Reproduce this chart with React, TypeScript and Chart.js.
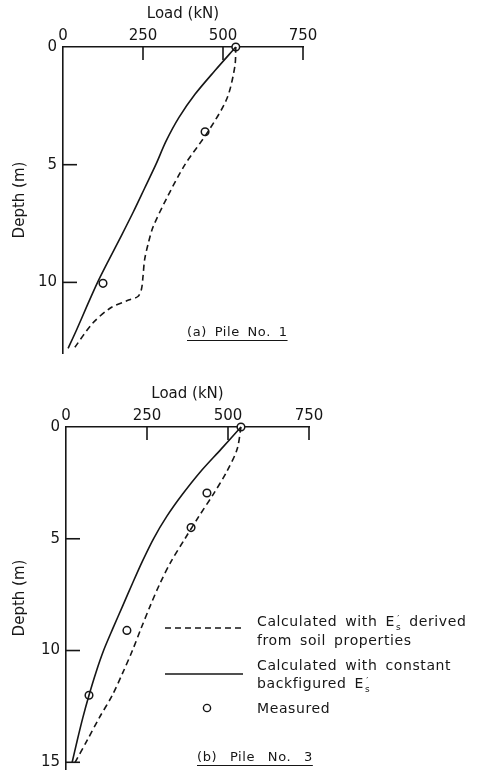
import React, { useEffect, useRef } from 'react';
import { Chart, registerables } from 'chart.js';

Chart.register(...registerables);

const INK = '#161616';
const FONT = "'DejaVu Sans', 'Liberation Sans', sans-serif";

// Axis tick labels
const loadTicks = [0, 250, 500, 750];
const depthTicksPile1 = [0, 5, 10];
const depthTicksPile3 = [0, 5, 10, 15];

// ---- Pile No. 1 ----
// Calculated with E's derived from soil properties (dashed)
const pile1SoilDepth = [0, 0.83, 2.2, 3.6, 5, 6.4, 7.66, 8.37, 9.04, 9.75, 10.3, 10.6, 10.75, 11.1, 11.76, 12.76];
const pile1SoilLoad = [540, 537, 512, 453, 381, 325, 281, 266, 255, 250, 245, 234, 205, 147, 91, 37];
// Calculated with constant backfigured E's (solid)
const pile1BackDepth = [0, 1, 2, 3, 4, 5, 6, 7, 8, 9, 10, 11, 12, 12.8];
const pile1BackLoad = [540, 475, 413, 362, 322, 290, 255, 220, 183, 145, 108, 75, 43, 16];
// Measured
const pile1MeasDepth = [0, 3.6, 10.04];
const pile1MeasLoad = [540, 444, 125];

// ---- Pile No. 3 ----
const pile3SoilDepth = [0, 1, 2, 3, 4, 5, 6, 7, 8, 9, 10, 11, 12, 13, 14, 15];
const pile3SoilLoad = [540, 528, 496, 455, 410, 367, 325, 290, 260, 232, 205, 175, 143, 103, 66, 28];
const pile3BackDepth = [0, 1, 2, 3, 4, 5, 6, 7, 8, 9, 10, 11, 12, 13, 14, 15];
const pile3BackLoad = [540, 478, 415, 360, 311, 270, 236, 205, 175, 145, 116, 92, 71, 52, 35, 19];
const pile3MeasDepth = [0, 2.95, 4.5, 9.1, 12.0];
const pile3MeasLoad = [540, 435, 386, 188, 71];

const inwardTicks = {
  id: 'inwardTicks',
  beforeDatasetsDraw(chart: any) {
    const { ctx, chartArea } = chart;
    const xs = chart.scales.x;
    const ys = chart.scales.y;
    ctx.save();
    ctx.strokeStyle = INK;
    ctx.lineWidth = 1.6;
    xs.ticks.forEach((t: any) => {
      if (t.value === 0) return;
      const px = xs.getPixelForValue(t.value);
      ctx.beginPath();
      ctx.moveTo(px, chartArea.top);
      ctx.lineTo(px, chartArea.top + 13);
      ctx.stroke();
    });
    ys.ticks.forEach((t: any) => {
      if (t.value === 0) return;
      const py = ys.getPixelForValue(t.value);
      ctx.beginPath();
      ctx.moveTo(chartArea.left, py);
      ctx.lineTo(chartArea.left + 14, py);
      ctx.stroke();
    });
    ctx.restore();
  },
};

type PileProps = {
  top: number;
  height: number;
  axisLeft: number;
  axisRight: number;
  bottomPad: number;
  depthMax: number;
  depthTicks: number[];
  soilDepth: number[];
  soilLoad: number[];
  backDepth: number[];
  backLoad: number[];
  measDepth: number[];
  measLoad: number[];
};

const W = 481;

function PileChart(p: PileProps) {
  const ref = useRef<HTMLCanvasElement | null>(null);
  useEffect(() => {
    if (!ref.current) return;
    const pts = (xs: number[], ys: number[]) => xs.map((x, i) => ({ x, y: ys[i] }));
    const chart = new Chart(ref.current, {
      type: 'line',
      data: {
        datasets: [
          {
            label: 'soil',
            data: pts(p.soilLoad, p.soilDepth),
            borderColor: INK,
            borderWidth: 1.6,
            borderDash: [6, 4],
            pointRadius: 0,
            tension: 0.3,
            fill: false,
            clip: false,
          } as any,
          {
            label: 'backfigured',
            data: pts(p.backLoad, p.backDepth),
            borderColor: INK,
            borderWidth: 1.6,
            pointRadius: 0,
            tension: 0.3,
            fill: false,
            clip: false,
          } as any,
          {
            label: 'measured',
            data: pts(p.measLoad, p.measDepth),
            showLine: false,
            pointRadius: 3.8,
            pointBorderWidth: 1.5,
            pointBackgroundColor: '#ffffff',
            pointBorderColor: INK,
            clip: false,
          } as any,
        ],
      },
      options: {
        responsive: false,
        animation: false,
        devicePixelRatio: 1,
        layout: { padding: { left: 0, top: 0, right: W - p.axisRight, bottom: p.bottomPad } },
        plugins: { legend: { display: false }, tooltip: { enabled: false } },
        scales: {
          x: {
            type: 'linear',
            position: 'top',
            min: 0,
            max: 750,
            afterBuildTicks: (s: any) => {
              s.ticks = loadTicks.map((v) => ({ value: v }));
            },
            afterFit: (s: any) => {
              s.height = 47;
            },
            grid: { display: false, drawTicks: false },
            border: { display: true, color: INK, width: 1.6 },
            ticks: { color: INK, font: { family: FONT, size: 15 }, padding: 2, maxRotation: 0 },
            title: {
              display: true,
              text: 'Load (kN)',
              color: INK,
              font: { family: FONT, size: 15 },
              padding: { top: 5, bottom: 0 },
            },
          },
          y: {
            type: 'linear',
            reverse: true,
            min: 0,
            max: p.depthMax,
            afterBuildTicks: (s: any) => {
              s.ticks = p.depthTicks.map((v) => ({ value: v }));
            },
            afterFit: (s: any) => {
              s.width = p.axisLeft;
            },
            grid: { display: false, drawTicks: false },
            border: { display: true, color: INK, width: 1.6 },
            ticks: { color: INK, font: { family: FONT, size: 15 }, padding: 6 },
            title: {
              display: true,
              text: 'Depth (m)',
              color: INK,
              font: { family: FONT, size: 15 },
              padding: { top: 11, bottom: 0 },
            },
          },
        },
      } as any,
      plugins: [inwardTicks],
    });
    return () => chart.destroy();
  }, []);
  return (
    <canvas
      ref={ref}
      width={W}
      height={p.height}
      style={{ position: 'absolute', left: 0, top: p.top, width: W, height: p.height }}
    />
  );
}

const Es = () => (
  <span>
    E
    <span
      style={{
        display: 'inline-block',
        fontSize: 9,
        lineHeight: '8px',
        verticalAlign: '-4px',
        textAlign: 'center',
        marginLeft: 1,
      }}
    >
      ′<br />s
    </span>
  </span>
);

export default function App() {
  const text: React.CSSProperties = {
    position: 'absolute',
    fontFamily: FONT,
    fontSize: 14,
    color: INK,
    lineHeight: '18px',
    letterSpacing: '0.6px',
    wordSpacing: '3px',
    whiteSpace: 'nowrap',
  };
  return (
    <div style={{ position: 'absolute', left: 0, top: 0, width: W, height: 784, background: '#fff', overflow: 'hidden' }}>
      <PileChart
        top={0}
        height={368}
        axisLeft={63}
        axisRight={303}
        bottomPad={10}
        depthMax={13}
        depthTicks={depthTicksPile1}
        soilDepth={pile1SoilDepth}
        soilLoad={pile1SoilLoad}
        backDepth={pile1BackDepth}
        backLoad={pile1BackLoad}
        measDepth={pile1MeasDepth}
        measLoad={pile1MeasLoad}
      />
      <PileChart
        top={380}
        height={404}
        axisLeft={66}
        axisRight={309}
        bottomPad={0}
        depthMax={15.3}
        depthTicks={depthTicksPile3}
        soilDepth={pile3SoilDepth}
        soilLoad={pile3SoilLoad}
        backDepth={pile3BackDepth}
        backLoad={pile3BackLoad}
        measDepth={pile3MeasDepth}
        measLoad={pile3MeasLoad}
      />
      <div style={{ ...text, fontSize: 13, left: 187, top: 323, textDecoration: 'underline', textUnderlineOffset: '4px' }}>
        (a) Pile No. 1
      </div>
      <div style={{ ...text, fontSize: 13, wordSpacing: '8px', left: 197, top: 748, textDecoration: 'underline', textUnderlineOffset: '4px' }}>
        (b) Pile No. 3
      </div>
      <svg style={{ position: 'absolute', left: 0, top: 0 }} width={W} height={784}>
        <line x1={165} y1={628} x2={243} y2={628} stroke={INK} strokeWidth={1.6} strokeDasharray="6 4" />
        <line x1={165} y1={674} x2={243} y2={674} stroke={INK} strokeWidth={1.6} />
        <circle cx={207} cy={708} r={3.6} fill="#fff" stroke={INK} strokeWidth={1.4} />
      </svg>
      <div style={{ ...text, left: 257, top: 612 }}>
        Calculated with <Es /> derived
        <br />
        from soil properties
      </div>
      <div style={{ ...text, left: 257, top: 656 }}>
        Calculated with constant
        <br />
        backfigured <Es />
      </div>
      <div style={{ ...text, left: 257, top: 699 }}>Measured</div>
    </div>
  );
}
